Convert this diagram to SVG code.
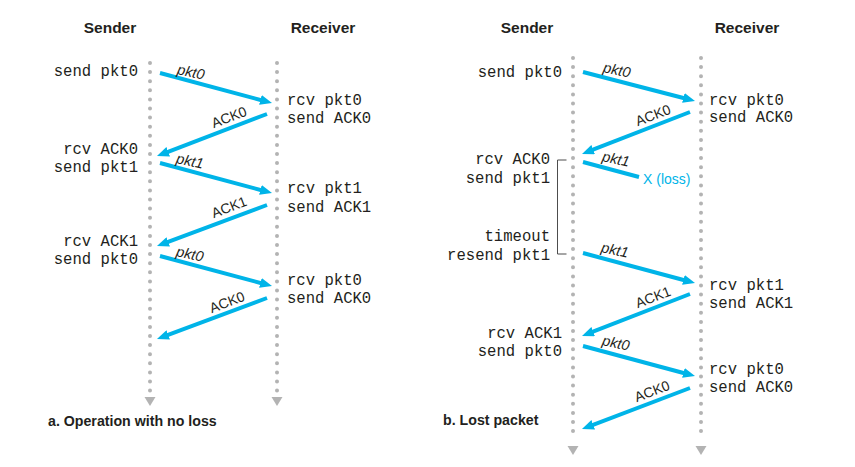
<svg xmlns="http://www.w3.org/2000/svg" width="855" height="467" viewBox="0 0 855 467">
  <style>
    .hdr { font-family: "Liberation Sans", Arial, sans-serif; font-weight: bold; font-size: 15.5px; fill: #231f20; text-anchor: middle; }
    .cap { font-family: "Liberation Sans", Arial, sans-serif; font-weight: bold; font-size: 14.2px; fill: #231f20; }
    .ev { font-family: "Liberation Mono", "Courier New", monospace; font-size: 15.6px; fill: #231f20; }
    .evr { text-anchor: end; }
    .pkt { font-family: "Liberation Sans", Arial, sans-serif; font-style: italic; font-size: 14.5px; fill: #231f20; text-anchor: middle; }
    .ack { font-family: "Liberation Sans", Arial, sans-serif; font-size: 14px; fill: #231f20; text-anchor: middle; }
    .loss { font-family: "Liberation Sans", Arial, sans-serif; font-size: 14px; fill: #00b4e8; }
    .tl { stroke: #b3b3b3; stroke-width: 4; stroke-linecap: round; stroke-dasharray: 0 9.1; fill: none; }
    .tlend { fill: #b3b3b3; }
    .msg { stroke: #00b4e8; stroke-width: 4; fill: none; }
    .msga { marker-end: url(#head); }
    .brk { stroke: #4d4d4d; stroke-width: 1; fill: none; }
  </style>
  <defs>
    <marker id="head" viewBox="0 0 12 10" refX="3" refY="5" markerWidth="12" markerHeight="10" markerUnits="userSpaceOnUse" orient="auto">
      <path d="M0,0 L12,5 L0,10 z" fill="#00b4e8"/>
    </marker>
  </defs>

  <!-- a. Operation with no loss -->
  <g id="a-sender">
    <text class="hdr" x="110" y="33">Sender</text>
    <line class="tl" x1="150" y1="63" x2="150" y2="391"/>
    <polygon class="tlend" points="144.5,397 155.5,397 150,406"/>
    <text class="ev evr" x="138" y="76">send pkt0</text>
    <text class="ev evr" x="138" y="154">rcv ACK0</text>
    <text class="ev evr" x="138" y="172">send pkt1</text>
    <text class="ev evr" x="138" y="246">rcv ACK1</text>
    <text class="ev evr" x="138" y="264">send pkt0</text>
  </g>
  <g id="a-receiver">
    <text class="hdr" x="323" y="33">Receiver</text>
    <line class="tl" x1="277" y1="63" x2="277" y2="391"/>
    <polygon class="tlend" points="271.5,397 282.5,397 277,406"/>
    <text class="ev" x="287" y="105">rcv pkt0</text>
    <text class="ev" x="287" y="123">send ACK0</text>
    <text class="ev" x="287" y="193">rcv pkt1</text>
    <text class="ev" x="287" y="212">send ACK1</text>
    <text class="ev" x="287" y="285">rcv pkt0</text>
    <text class="ev" x="287" y="303">send ACK0</text>
  </g>
  <text id="a-caption" class="cap" x="48" y="426">a. Operation with no loss</text>

  <g id="a-connectors">
    <line class="msg msga" x1="160" y1="73" x2="263.3" y2="100.7"/>
    <line class="msg msga" x1="267" y1="114" x2="165.4" y2="152.8"/>
    <line class="msg msga" x1="160" y1="163" x2="263.3" y2="190.7"/>
    <line class="msg msga" x1="267" y1="205" x2="165.4" y2="242.9"/>
    <line class="msg msga" x1="160" y1="256" x2="263.3" y2="283.7"/>
    <line class="msg msga" x1="267" y1="298" x2="165.4" y2="335.9"/>
    <text class="pkt" transform="translate(191,72) rotate(12)" y="5">pkt0</text>
    <text class="ack" transform="translate(229,117) rotate(-21)" y="5">ACK0</text>
    <text class="pkt" transform="translate(190,161) rotate(12)" y="5">pkt1</text>
    <text class="ack" transform="translate(229,207) rotate(-21)" y="5">ACK1</text>
    <text class="pkt" transform="translate(190,254) rotate(12)" y="5">pkt0</text>
    <text class="ack" transform="translate(227,302) rotate(-21)" y="5">ACK0</text>
  </g>

  <!-- b. Lost packet -->
  <g id="b-sender">
    <text class="hdr" x="527" y="33">Sender</text>
    <line class="tl" x1="573" y1="58" x2="573" y2="440"/>
    <polygon class="tlend" points="567.5,446 578.5,446 573,455"/>
    <text class="ev evr" x="562" y="77">send pkt0</text>
    <text class="ev evr" x="550" y="164">rcv ACK0</text>
    <text class="ev evr" x="550" y="183">send pkt1</text>
    <text class="ev evr" x="550" y="241">timeout</text>
    <text class="ev evr" x="550" y="260">resend pkt1</text>
    <text class="ev evr" x="562" y="338">rcv ACK1</text>
    <text class="ev evr" x="562" y="356">send pkt0</text>
    <path class="brk" d="M566.5,160 H557.5 V254 H566.5"/>
  </g>
  <g id="b-receiver">
    <text class="hdr" x="747" y="33">Receiver</text>
    <line class="tl" x1="701" y1="58" x2="701" y2="440"/>
    <polygon class="tlend" points="695.5,446 706.5,446 701,455"/>
    <text class="ev" x="709" y="105">rcv pkt0</text>
    <text class="ev" x="709" y="122">send ACK0</text>
    <text class="ev" x="709" y="290">rcv pkt1</text>
    <text class="ev" x="709" y="308">send ACK1</text>
    <text class="ev" x="709" y="374">rcv pkt0</text>
    <text class="ev" x="709" y="392">send ACK0</text>
  </g>
  <text id="b-caption" class="cap" x="443" y="425">b. Lost packet</text>

  <g id="b-connectors">
    <line class="msg msga" x1="583" y1="72" x2="686.3" y2="98.7"/>
    <line class="msg msga" x1="690" y1="112" x2="590.4" y2="150.7"/>
    <line class="msg" x1="583" y1="162" x2="639" y2="177"/>
    <text class="loss" x="643" y="184">X (loss)</text>
    <line class="msg msga" x1="583" y1="253" x2="686.3" y2="280.7"/>
    <line class="msg msga" x1="690" y1="294" x2="590.4" y2="332.7"/>
    <line class="msg msga" x1="583" y1="346" x2="686.3" y2="373.7"/>
    <line class="msg msga" x1="690" y1="388" x2="590.4" y2="425.8"/>
    <text class="pkt" transform="translate(617,70) rotate(12)" y="5">pkt0</text>
    <text class="ack" transform="translate(653,115) rotate(-21)" y="5">ACK0</text>
    <text class="pkt" transform="translate(616,159) rotate(12)" y="5">pkt1</text>
    <text class="pkt" transform="translate(615,250) rotate(12)" y="5">pkt1</text>
    <text class="ack" transform="translate(653,297) rotate(-21)" y="5">ACK1</text>
    <text class="pkt" transform="translate(616,343) rotate(12)" y="5">pkt0</text>
    <text class="ack" transform="translate(652,391) rotate(-21)" y="5">ACK0</text>
  </g>
</svg>
